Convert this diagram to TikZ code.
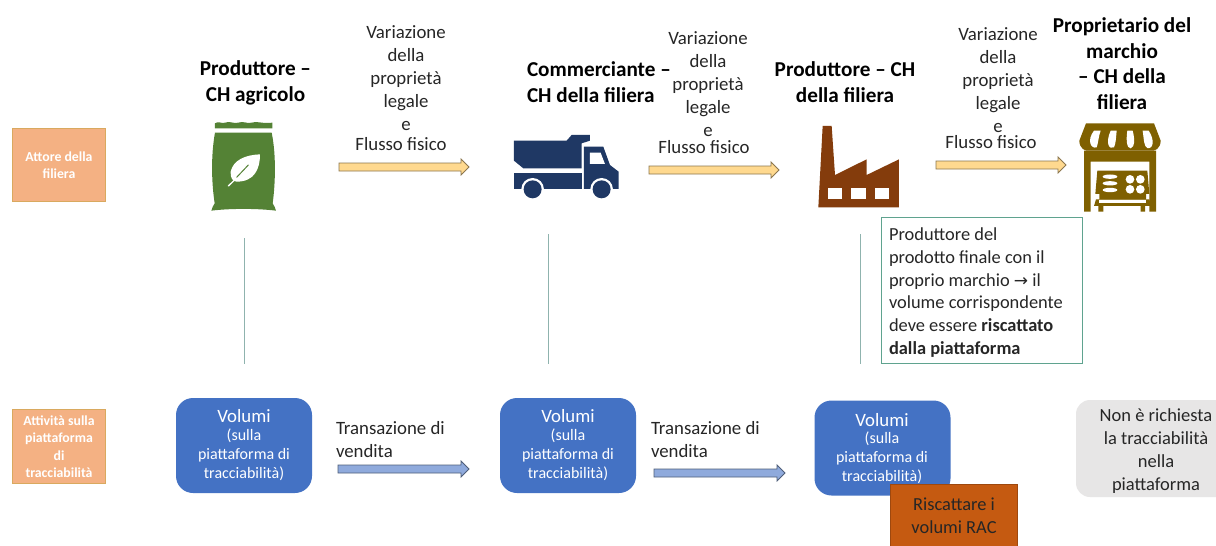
\documentclass[tikz,border=0pt]{standalone}
\usepackage{fontspec}
\setmainfont{Carlito}
\newfontfamily\symfont{DejaVu Sans}
\usetikzlibrary{calc}
\definecolor{ink}{HTML}{262626}
\definecolor{bagg}{HTML}{548235}
\definecolor{truckb}{HTML}{1F3864}
\definecolor{factb}{HTML}{843C0C}
\definecolor{storeb}{HTML}{7F6000}
\definecolor{volb}{HTML}{4472C4}
\definecolor{labo}{HTML}{F4B183}
\definecolor{labe}{HTML}{D9A95F}
\definecolor{rac}{HTML}{C55A11}
\definecolor{nogr}{HTML}{E7E6E6}
\definecolor{gbox}{HTML}{5FA38F}
\definecolor{vline}{HTML}{8FB3AE}
\definecolor{yarrow}{HTML}{FFD98F}
\definecolor{barrow}{HTML}{8FAADC}
\tikzset{
  x=1pt,y=-1pt,
  every node/.style={inner sep=0pt,outer sep=0pt},
  title/.style={align=center,text=black,font=\fontsize{21.2}{25.5}\selectfont\bfseries},
  body/.style={align=center,text=ink,font=\fontsize{18.8}{23}\selectfont},
  flow/.style={text=ink,font=\fontsize{18.8}{23}\selectfont},
  sale/.style={align=left,text=ink,font=\fontsize{18.8}{23}\selectfont},
  sidelabel/.style={draw=labe,line width=0.9pt,fill=labo,minimum width=93pt,minimum height=73.5pt,align=center,text=white,font=\fontsize{13.8}{17.5}\selectfont\bfseries},
  volbox/.style={fill=volb,rounded corners=17pt,minimum width=136pt,minimum height=95pt,align=center,text=white},
  voltext/.style={align=center,text=white,font=\fontsize{16}{18.8}\selectfont},
  link/.style={vline,line width=0.9pt},
  blockarrow/.style={draw=#1!55!black,line width=0.8pt,fill=#1,line join=miter,
    to path={let \p1=(\tikztostart),\p2=(\tikztotarget) in
      (\x1,\y1+4pt) -- (\x2-8pt,\y1+4pt) -- (\x2-8pt,\y1+8pt) -- (\x2,\y1) -- (\x2-8pt,\y1-8pt) -- (\x2-8pt,\y1-4pt) -- (\x1,\y1-4pt) -- cycle}},
}
\begin{document}
\begin{tikzpicture}
\useasboundingbox (0,0) rectangle (1216,546);
\fill[white] (0,0) rectangle (1216,546);

% side labels
\node[sidelabel] (lab1) at (59,165) {Attore della\\filiera};
\node[sidelabel] (lab2) at (59,446.5) {Attività sulla\\piattaforma\\di\\tracciabilità};

% titles
\node[title] (t1) at (255.5,83) {Produttore –\\CH agricolo};
\node[title,align=left,anchor=west] (t2) at (527,82) {Commerciante –\\CH della filiera};
\node[title] (t3) at (845,82) {Produttore – CH\\della filiera};
\node[title] (t4) at (1122,63.5) {Proprietario del\\marchio\\– CH della\\filiera};

% flow texts
\node[body] (v1) at (406,78) {Variazione\\della\\proprietà\\legale\\e};
\node[flow] (f1) at (401,144) {Flusso fisico};
\node[body] (v2) at (708,84) {Variazione\\della\\proprietà\\legale\\e};
\node[flow] (f2) at (704,147) {Flusso fisico};
\node[body] (v3) at (998,80) {Variazione\\della\\proprietà\\legale\\e};
\node[flow] (f3) at (991,142) {Flusso fisico};

% yellow arrows
\coordinate (ya1) at (339,167); \coordinate (yb1) at (469,167);
\coordinate (ya2) at (649,170); \coordinate (yb2) at (779,170);
\coordinate (ya3) at (936,165); \coordinate (yb3) at (1066,165);
\draw[blockarrow=yarrow] (ya1) to (yb1);
\draw[blockarrow=yarrow] (ya2) to (yb2);
\draw[blockarrow=yarrow] (ya3) to (yb3);

% bag icon
\begin{scope}[shift={(180,100)},x=0.3333pt,y=-0.3333pt]
\fill[bagg] (105,85) -- (105,70) .. controls (115,62) and (125,72) .. (135,68)
  .. controls (150,62) and (160,72) .. (175,68) .. controls (190,62) and (200,72) .. (215,68)
  .. controls (230,62) and (245,72) .. (277,68) -- (277,85) -- cycle;
\fill[bagg] (105,98) -- (275,98) .. controls (290,170) and (285,260) .. (278,310)
  .. controls (280,318) and (288,322) .. (288,332)
  .. controls (230,325) and (150,325) .. (94,332)
  .. controls (94,322) and (102,318) .. (104,310)
  .. controls (95,250) and (92,170) .. (105,98) -- cycle;
\fill[white] (240,163) .. controls (195,165) and (160,180) .. (152,215)
  .. controls (150,235) and (160,245) .. (170,245)
  .. controls (225,245) and (240,205) .. (240,163) -- cycle;
\draw[white,line width=1.3pt,line cap=round] (145,258) -- (172,232);
\draw[bagg,line width=1pt,line cap=round] (170,232) -- (205,195);
\end{scope}

% truck icon
\begin{scope}[shift={(180,100)},x=0.3333pt,y=-0.3333pt]
\fill[truckb] (1002,122) -- (1160,122) -- (1175,105) -- (1230,105) -- (1230,122) -- (1205,130)
  -- (1205,205) -- (1030,205) -- (1002,182) -- cycle;
\fill[truckb] (1002,220) rectangle (1205,270);
\fill[truckb] (1212,140) -- (1270,140) -- (1290,195) -- (1316,215) -- (1316,268) -- (1212,268) -- cycle;
\fill[white] (1230,158) -- (1262,158) -- (1275,192) -- (1230,192) -- cycle;
\fill[white] (1058,268) circle[radius=34];
\fill[white] (1265,268) circle[radius=34];
\fill[white] (1002,268) rectangle (1320,300);
\fill[truckb] (1058,268) circle[radius=27];
\fill[truckb] (1265,268) circle[radius=27];
\end{scope}

% factory icon
\begin{scope}[shift={(800,100)},x=0.3333pt,y=-0.3333pt]
\fill[factb] (68,78) -- (95,78) -- (105,225) -- (200,178) -- (200,225) -- (297,178) -- (297,322) -- (55,322) -- cycle;
\fill[white] (83,265) rectangle (127,297);
\fill[white] (154,265) rectangle (197,297);
\fill[white] (225,265) rectangle (268,297);
\end{scope}

% store icon
\begin{scope}[shift={(1070,120)},x=0.3333pt,y=-0.3333pt]
\fill[storeb] (48,10) -- (252,10) -- (272,62) .. controls (272,85) and (255,95) .. (240,92)
  -- (60,92) .. controls (45,95) and (28,85) .. (28,62) -- cycle;
\fill[white] (72,32) -- (92,32) .. controls (85,50) and (85,70) .. (80,82) .. controls (62,88) and (50,60) .. (72,32) -- cycle;
\fill[white] (122,32) -- (140,32) .. controls (138,50) and (138,70) .. (132,82) .. controls (118,90) and (105,70) .. (122,32) -- cycle;
\fill[white] (172,32) -- (188,32) .. controls (195,60) and (195,80) .. (182,85) .. controls (170,85) and (168,60) .. (172,32) -- cycle;
\fill[white] (218,32) -- (236,32) .. controls (255,60) and (250,88) .. (232,84) .. controls (222,80) and (222,60) .. (218,32) -- cycle;
\fill[storeb] (42,92) -- (258,92) -- (258,275) -- (238,275) -- (238,125) -- (62,125) -- (62,275) -- (42,275) -- cycle;
\fill[storeb] (82,152) -- (232,152) -- (238,222) -- (228,222) -- (228,238) -- (88,238) -- (88,222) -- (76,222) -- cycle;
\fill[storeb] (78,238) -- (238,238) -- (245,258) -- (225,258) -- (225,275) -- (212,275) -- (212,258) -- (100,258) -- (100,275) -- (85,275) -- (85,258) -- (72,258) -- cycle;
\fill[white] (88,241) -- (228,241) -- (228,250) -- (88,250) -- cycle;
\fill[white] (120,170) ellipse[x radius=22,y radius=6.5];
\fill[white] (120,190) ellipse[x radius=22,y radius=6.5];
\fill[white] (120,210) ellipse[x radius=22,y radius=6.5];
\fill[white] (180,178) circle[radius=13];
\fill[white] (211,178) circle[radius=13];
\fill[white] (180,208) circle[radius=13];
\fill[white] (211,208) circle[radius=13];
\end{scope}

% vertical links
\coordinate (la1) at (244,238); \coordinate (lb1) at (244,364);
\coordinate (la2) at (548,234); \coordinate (lb2) at (548,364);
\coordinate (la3) at (860,234); \coordinate (lb3) at (860,364);
\draw[link] (la1) -- (lb1);
\draw[link] (la2) -- (lb2);
\draw[link] (la3) -- (lb3);

% green note
\node[draw=gbox,line width=0.9pt,fill=white,minimum width=201pt,minimum height=146pt] (note) at (981.5,290) {};
\node[text width=185pt,align=left,text=ink,font=\fontsize{18.4}{22.8}\selectfont] (notetext) at (981.5,292.5)
 {\spaceskip=4.2pt\relax Produttore del\\prodotto finale con il\\proprio marchio {\symfont\fontsize{17}{17}\selectfont →} il\\volume corrispondente\\deve essere \textbf{riscattato}\\\textbf{dalla piattaforma}};

% volume boxes
\node[volbox] (b1) at (244,445.5) {};
\node[volbox] (b2) at (568,445.5) {};
\node[volbox] (b3) at (882.5,448) {};
\node[text=white,font=\fontsize{18.8}{20}\selectfont] (b1a) at (244,416) {Volumi};
\node[voltext] (b1b) at (244,455) {(sulla\\piattaforma di\\tracciabilità)};
\node[text=white,font=\fontsize{18.8}{20}\selectfont] (b2a) at (568,416) {Volumi};
\node[voltext] (b2b) at (568,455) {(sulla\\piattaforma di\\tracciabilità)};
\node[text=white,font=\fontsize{18.8}{20}\selectfont] (b3a) at (882,420) {Volumi};
\node[voltext] (b3b) at (882,458) {(sulla\\piattaforma di\\tracciabilità)};

% sale texts and arrows
\node[sale,anchor=west] (s1) at (336,439.5) {Transazione di\\vendita};
\node[sale,anchor=west] (s2) at (651,440) {Transazione di\\vendita};
\coordinate (ba1) at (338,469); \coordinate (bb1) at (469,469);
\coordinate (ba2) at (654,473); \coordinate (bb2) at (785,473);
\draw[blockarrow=barrow] (ba1) to (bb1);
\draw[blockarrow=barrow] (ba2) to (bb2);

% redeem
\node[fill=rac,draw=rac!80!black,line width=0.6pt,minimum width=127pt,minimum height=64pt,align=center,text=ink,font=\fontsize{18.4}{23}\selectfont] (rac) at (954,516) {Riscattare i\\volumi RAC};

% grey box
\fill[nogr,rounded corners=14pt] (1076,400) rectangle (1240,497);
\node[align=center,text=ink,font=\fontsize{18.5}{23}\selectfont] (no) at (1156,451) {Non è richiesta\\la tracciabilità\\nella\\piattaforma};
\end{tikzpicture}
\end{document}
